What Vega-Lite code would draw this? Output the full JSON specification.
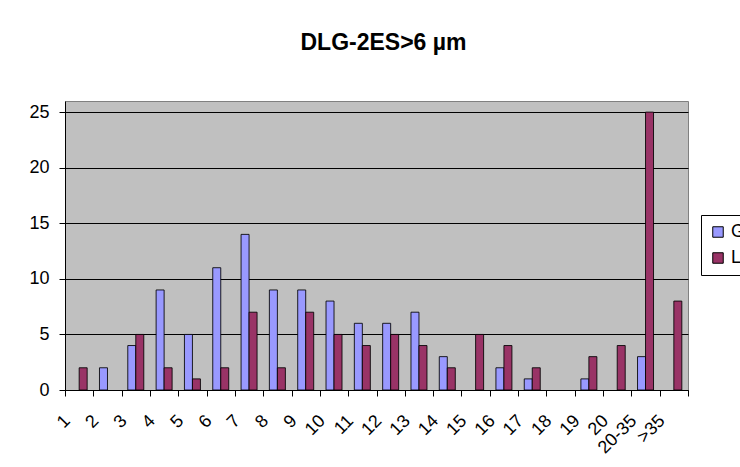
{
  "$schema": "https://vega.github.io/schema/vega-lite/v6.json",
  "autosize": {"type": "none"},
  "padding": {"left": 65, "top": 101, "right": 52, "bottom": 77},
  "width": 623,
  "height": 289,
  "background": "white",
  "title": {
    "text": "DLG-2ES>6 µm",
    "font": "Liberation Sans",
    "fontSize": 23,
    "fontWeight": "bold",
    "color": "black",
    "anchor": "middle",
    "baseline": "alphabetic",
    "offset": 28,
    "dx": 7
  },
  "data": {
    "values": [
      {"bin": "1", "series": "G", "count": 0}, {"bin": "1", "series": "L", "count": 2},
      {"bin": "2", "series": "G", "count": 2}, {"bin": "2", "series": "L", "count": 0},
      {"bin": "3", "series": "G", "count": 4}, {"bin": "3", "series": "L", "count": 5},
      {"bin": "4", "series": "G", "count": 9}, {"bin": "4", "series": "L", "count": 2},
      {"bin": "5", "series": "G", "count": 5}, {"bin": "5", "series": "L", "count": 1},
      {"bin": "6", "series": "G", "count": 11}, {"bin": "6", "series": "L", "count": 2},
      {"bin": "7", "series": "G", "count": 14}, {"bin": "7", "series": "L", "count": 7},
      {"bin": "8", "series": "G", "count": 9}, {"bin": "8", "series": "L", "count": 2},
      {"bin": "9", "series": "G", "count": 9}, {"bin": "9", "series": "L", "count": 7},
      {"bin": "10", "series": "G", "count": 8}, {"bin": "10", "series": "L", "count": 5},
      {"bin": "11", "series": "G", "count": 6}, {"bin": "11", "series": "L", "count": 4},
      {"bin": "12", "series": "G", "count": 6}, {"bin": "12", "series": "L", "count": 5},
      {"bin": "13", "series": "G", "count": 7}, {"bin": "13", "series": "L", "count": 4},
      {"bin": "14", "series": "G", "count": 3}, {"bin": "14", "series": "L", "count": 2},
      {"bin": "15", "series": "G", "count": 0}, {"bin": "15", "series": "L", "count": 5},
      {"bin": "16", "series": "G", "count": 2}, {"bin": "16", "series": "L", "count": 4},
      {"bin": "17", "series": "G", "count": 1}, {"bin": "17", "series": "L", "count": 2},
      {"bin": "18", "series": "G", "count": 0}, {"bin": "18", "series": "L", "count": 0},
      {"bin": "19", "series": "G", "count": 1}, {"bin": "19", "series": "L", "count": 3},
      {"bin": "20", "series": "G", "count": 0}, {"bin": "20", "series": "L", "count": 4},
      {"bin": "20-35", "series": "G", "count": 3}, {"bin": "20-35", "series": "L", "count": 25},
      {"bin": ">35", "series": "G", "count": 0}, {"bin": ">35", "series": "L", "count": 8}
    ]
  },
  "mark": {"type": "bar", "stroke": "black", "strokeWidth": 1, "strokeOpacity": 0.85},
  "encoding": {
    "x": {
      "field": "bin",
      "type": "nominal",
      "sort": null,
      "scale": {"paddingInner": 0, "paddingOuter": 0},
      "axis": {
        "title": null,
        "labelAngle": -45,
        "labelAlign": "right",
        "labelBaseline": "middle",
        "labelOffset": -12,
        "labelPadding": 22,
        "labelFont": "Liberation Sans",
        "labelFontSize": 18,
        "labelColor": "black",
        "tickBand": "extent",
        "tickColor": "black",
        "tickSize": 6,
        "domainColor": "black",
        "grid": false
      }
    },
    "xOffset": {
      "field": "series",
      "type": "nominal",
      "scale": {"domain": ["G", "L"], "paddingInner": 0, "paddingOuter": 0.77}
    },
    "y": {
      "field": "count",
      "type": "quantitative",
      "scale": {"domain": [0, 26], "nice": false},
      "axis": {
        "title": null,
        "values": [0, 5, 10, 15, 20, 25],
        "labelFont": "Liberation Sans",
        "labelFontSize": 18,
        "labelColor": "black",
        "labelPadding": 10,
        "tickColor": "black",
        "tickSize": 6,
        "domainColor": "black",
        "gridColor": "black",
        "gridOpacity": 1,
        "gridWidth": 1
      }
    },
    "color": {
      "field": "series",
      "type": "nominal",
      "scale": {"domain": ["G", "L"], "range": ["#9999FF", "#993366"]},
      "legend": {
        "title": null,
        "orient": "none",
        "legendX": 636,
        "legendY": 114,
        "symbolType": "square",
        "symbolSize": 110,
        "symbolStrokeColor": "black",
        "symbolStrokeWidth": 1,
        "labelFont": "Liberation Sans",
        "labelFontSize": 18,
        "labelColor": "black",
        "strokeColor": "black",
        "fillColor": "white",
        "padding": 8,
        "rowPadding": 8,
        "labelOffset": 4
      }
    },
    "opacity": {
      "condition": {"test": "datum.count == 0", "value": 0},
      "value": 1
    }
  },
  "config": {
    "view": {"fill": "#C0C0C0", "stroke": "#808080"},
    "axis": {"domainWidth": 1, "tickWidth": 1}
  }
}
